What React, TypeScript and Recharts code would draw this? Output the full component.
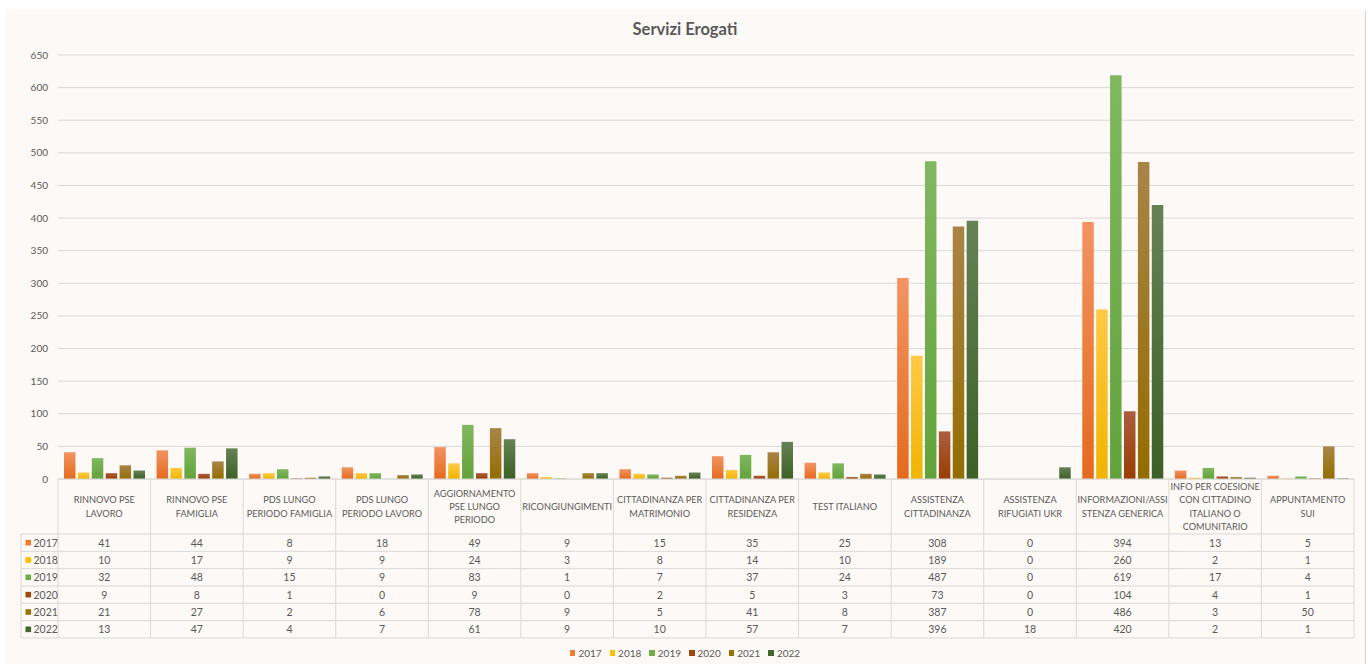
import React from 'react';
import { BarChart, Bar, XAxis, YAxis, CartesianGrid } from 'recharts';

// Service categories; "\n" marks where the header cell wraps.
const categories = [
  'RINNOVO PSE\nLAVORO',
  'RINNOVO PSE\nFAMIGLIA',
  'PDS LUNGO\nPERIODO FAMIGLIA',
  'PDS LUNGO\nPERIODO LAVORO',
  'AGGIORNAMENTO\nPSE LUNGO\nPERIODO',
  'RICONGIUNGIMENTI',
  'CITTADINANZA PER\nMATRIMONIO',
  'CITTADINANZA PER\nRESIDENZA',
  'TEST ITALIANO',
  'ASSISTENZA\nCITTADINANZA',
  'ASSISTENZA\nRIFUGIATI UKR',
  'INFORMAZIONI/ASSI\nSTENZA GENERICA',
  'INFO PER COESIONE\nCON CITTADINO\nITALIANO O\nCOMUNITARIO',
  'APPUNTAMENTO\nSUI',
];

const years = ['2017', '2018', '2019', '2020', '2021', '2022'];

const values2017 = [41, 44, 8, 18, 49, 9, 15, 35, 25, 308, 0, 394, 13, 5];
const values2018 = [10, 17, 9, 9, 24, 3, 8, 14, 10, 189, 0, 260, 2, 1];
const values2019 = [32, 48, 15, 9, 83, 1, 7, 37, 24, 487, 0, 619, 17, 4];
const values2020 = [9, 8, 1, 0, 9, 0, 2, 5, 3, 73, 0, 104, 4, 1];
const values2021 = [21, 27, 2, 6, 78, 9, 5, 41, 8, 387, 0, 486, 3, 50];
const values2022 = [13, 47, 4, 7, 61, 9, 10, 57, 7, 396, 18, 420, 2, 1];

const seriesValues = [values2017, values2018, values2019, values2020, values2021, values2022];

const yTicks = [0, 50, 100, 150, 200, 250, 300, 350, 400, 450, 500, 550, 600, 650];

// Office palette: base colour, plus gradient top / bottom shades
const seriesColors = ['#ED7D31', '#FFC000', '#70AD47', '#9E480E', '#997300', '#43682B'];
const gradientTop = ['#F29462', '#FFCA45', '#80B860', '#AC5D3E', '#A98447', '#658255'];
const gradientBottom = ['#E56A1D', '#F1B400', '#62A23A', '#993E02', '#936D00', '#3C6025'];

const data = categories.map((name, i) => {
  const row: Record<string, string | number> = { name };
  years.forEach((y, s) => {
    row[y] = seriesValues[s][i];
  });
  return row;
});

// layout (chart coordinates)
const CHART_W = 1361;
const CHART_H = 654;
const MARGIN = { top: 45, right: 12, left: 0, bottom: 26 };
const Y_AXIS_W = 53;
const PLOT_LEFT = MARGIN.left + Y_AXIS_W;
const PLOT_RIGHT = CHART_W - MARGIN.right;
const PLOT_BOTTOM = 469;
const COL_W = (PLOT_RIGHT - PLOT_LEFT) / categories.length;
const HEADER_H = 55;
const ROW_H = 17.33;
const TABLE_TOP = PLOT_BOTTOM;
const ROWS_TOP = TABLE_TOP + HEADER_H;
const TABLE_BOTTOM = ROWS_TOP + ROW_H * years.length;
const LABEL_COL_LEFT = 16;
const AXIS_H = TABLE_BOTTOM - PLOT_BOTTOM;

const BORDER = '#D9D9D9';
const TEXT = '#595959';
const FONT = 'Lato, "Open Sans", sans-serif';

// Each x-axis tick draws one column of the data table under the plot
const TableColumn = (props: any) => {
  const { x, payload } = props;
  const ci = categories.indexOf(payload.value);
  const left = x - COL_W / 2;
  const right = x + COL_W / 2;
  const lines = String(payload.value).split('\n');
  const lh = 13.3;
  const headerCenter = TABLE_TOP + HEADER_H / 2;

  return (
    <g fontFamily={FONT}>
      {ci === 0 && (
        <line x1={left} y1={TABLE_TOP} x2={left} y2={TABLE_BOTTOM} stroke={BORDER} />
      )}
      <line x1={right} y1={TABLE_TOP} x2={right} y2={TABLE_BOTTOM} stroke={BORDER} />
      {lines.map((t, k) => (
        <text
          key={k}
          x={x}
          y={headerCenter + (k - (lines.length - 1) / 2) * lh}
          textAnchor="middle"
          dominantBaseline="central"
          fontSize={9.2}
          fill={TEXT}
        >
          {t}
        </text>
      ))}
      {years.map((_, r) => (
        <line
          key={'h' + r}
          x1={left}
          x2={right}
          y1={ROWS_TOP + r * ROW_H}
          y2={ROWS_TOP + r * ROW_H}
          stroke={BORDER}
        />
      ))}
      <line x1={left} x2={right} y1={TABLE_BOTTOM} y2={TABLE_BOTTOM} stroke={BORDER} />
      {years.map((_, r) => (
        <text
          key={'v' + r}
          x={x}
          y={ROWS_TOP + (r + 0.5) * ROW_H}
          textAnchor="middle"
          dominantBaseline="central"
          fontSize={10.5}
          fill={TEXT}
        >
          {seriesValues[r][ci]}
        </text>
      ))}
      {ci === 0 && (
        <g>
          <line x1={LABEL_COL_LEFT} x2={LABEL_COL_LEFT} y1={ROWS_TOP} y2={TABLE_BOTTOM} stroke={BORDER} />
          {years.map((y, r) => (
            <g key={'l' + r}>
              <line
                x1={LABEL_COL_LEFT}
                x2={left}
                y1={ROWS_TOP + r * ROW_H}
                y2={ROWS_TOP + r * ROW_H}
                stroke={BORDER}
              />
              <rect
                x={LABEL_COL_LEFT + 4.5}
                y={ROWS_TOP + (r + 0.5) * ROW_H - 2.8}
                width={5.6}
                height={5.6}
                fill={seriesColors[r]}
              />
              <text
                x={LABEL_COL_LEFT + 12.5}
                y={ROWS_TOP + (r + 0.5) * ROW_H}
                dominantBaseline="central"
                fontSize={10.5}
                fill={TEXT}
              >
                {y}
              </text>
            </g>
          ))}
          <line x1={LABEL_COL_LEFT} x2={left} y1={TABLE_BOTTOM} y2={TABLE_BOTTOM} stroke={BORDER} />
        </g>
      )}
    </g>
  );
};

export default function App() {
  return (
    <div
      style={{
        position: 'absolute',
        left: 0,
        top: 0,
        width: 1368,
        height: 664,
        background: '#FFFFFF',
        overflow: 'hidden',
      }}
    >
      <div
        style={{
          position: 'absolute',
          left: 5,
          top: 10,
          width: CHART_W,
          height: CHART_H,
          background: '#FDF9F6',
          borderRight: '1px solid #D6D6D6',
          boxSizing: 'border-box',
        }}
      >
        <div
          style={{
            position: 'absolute',
            left: 0,
            top: 9,
            width: '100%',
            textAlign: 'center',
            fontFamily: FONT,
            fontWeight: 700,
            fontSize: 16.5,
            color: TEXT,
          }}
        >
          Servizi Erogati
        </div>
        <BarChart
          width={CHART_W}
          height={CHART_H}
          data={data}
          margin={MARGIN}
          barSize={11.5}
          barGap={2.4}
        >
          <defs>
            {years.map((y, s) => (
              <linearGradient key={y} id={'grad' + y} x1="0" y1="0" x2="0" y2="1">
                <stop offset="0%" stopColor={gradientTop[s]} />
                <stop offset="100%" stopColor={gradientBottom[s]} />
              </linearGradient>
            ))}
          </defs>
          <CartesianGrid vertical={false} stroke={BORDER} />
          <YAxis
            width={Y_AXIS_W}
            domain={[0, 650]}
            ticks={yTicks}
            interval={0}
            axisLine={false}
            tickLine={false}
            tickSize={0}
            tickMargin={10}
            tick={{ fontSize: 10, fill: TEXT, fontFamily: FONT }}
          />
          <XAxis
            dataKey="name"
            height={AXIS_H}
            interval={0}
            axisLine={{ stroke: BORDER }}
            tickLine={false}
            tick={<TableColumn />}
          />
          {years.map((y) => (
            <Bar key={y} dataKey={y} fill={'url(#grad' + y + ')'} isAnimationActive={false} />
          ))}
        </BarChart>
        <div
          style={{
            position: 'absolute',
            left: 0,
            top: 637,
            width: '100%',
            display: 'flex',
            justifyContent: 'center',
            fontFamily: FONT,
            fontSize: 10,
            color: TEXT,
          }}
        >
          {years.map((y, s) => (
            <div key={y} style={{ display: 'flex', alignItems: 'center', margin: '0 4px' }}>
              <span
                style={{
                  display: 'inline-block',
                  width: 5.5,
                  height: 5.5,
                  background: seriesColors[s],
                  marginRight: 3,
                }}
              />
              <span>{y}</span>
            </div>
          ))}
        </div>
      </div>
    </div>
  );
}
